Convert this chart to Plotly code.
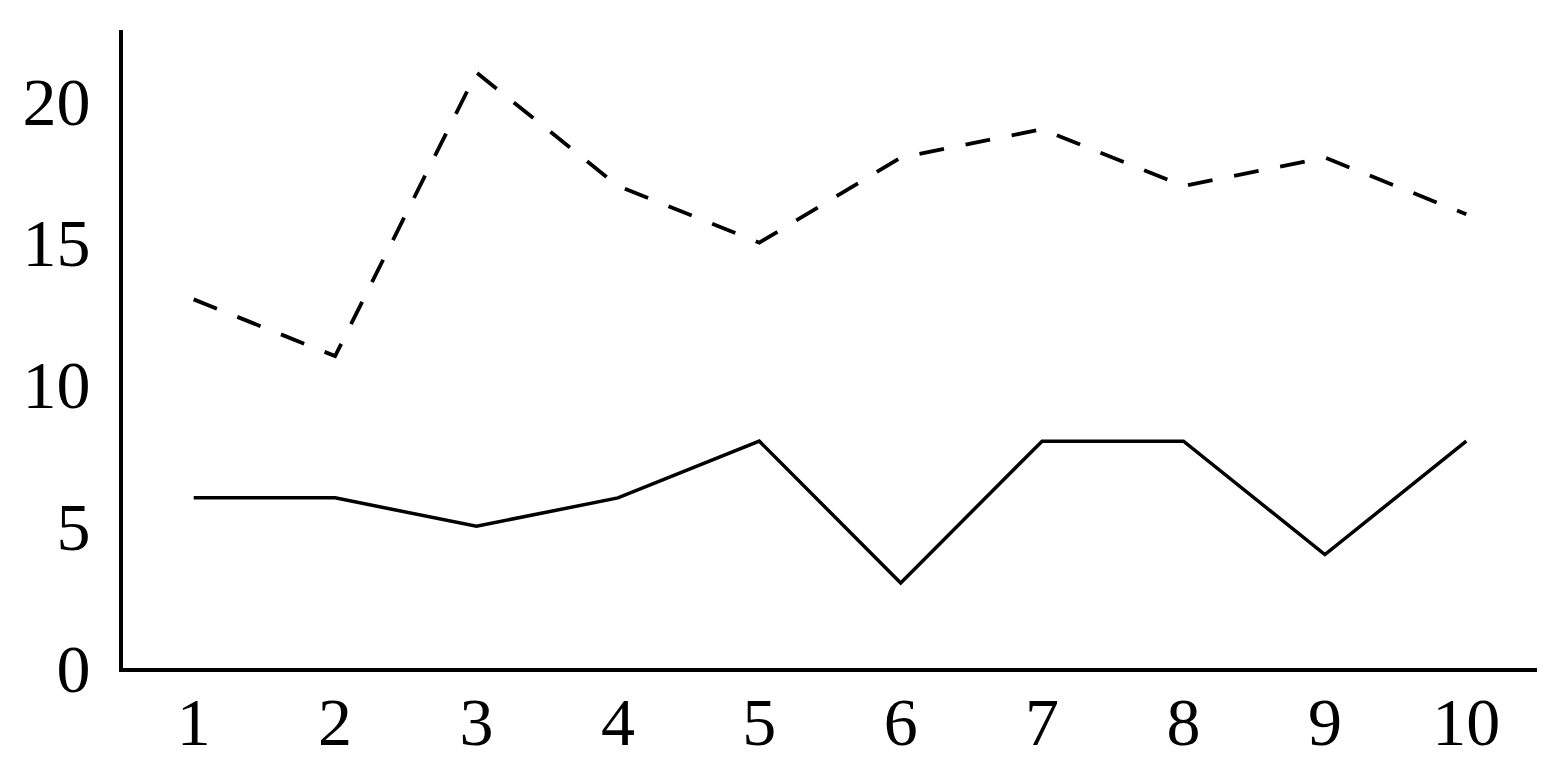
import plotly.graph_objects as go

# data
x = [1, 2, 3, 4, 5, 6, 7, 8, 9, 10]
dashed_vals = [13, 11, 21, 17, 15, 18, 19, 17, 18, 16]
solid_vals = [6, 6, 5, 6, 8, 3, 8, 8, 4, 8]
y_ticks = [0, 5, 10, 15, 20]

fig = go.Figure()

# dashed series
fig.add_trace(go.Scatter(x=x, y=dashed_vals, mode='lines',
                         line=dict(color='black', width=3.8, dash='25px,22px'),
                         showlegend=False))
# solid series
fig.add_trace(go.Scatter(x=x, y=solid_vals, mode='lines',
                         line=dict(color='black', width=3.5),
                         showlegend=False))

# page body adds an 8px offset, margins compensate for it
fig.update_layout(
    width=1567, height=782,
    margin=dict(l=115, r=38, t=22, b=122, autoexpand=False),
    paper_bgcolor='white', plot_bgcolor='white',
    font=dict(family='Liberation Serif, DejaVu Serif, serif', size=68, color='black'),
)

fig.update_xaxes(range=[0.5, 10.5], tickvals=x, showgrid=False, zeroline=False,
                 showline=True, linecolor='black', linewidth=4, automargin=False,
                 ticks='', ticklabelstandoff=-9)
fig.update_yaxes(range=[0, 22.5], tickvals=y_ticks, showgrid=False, zeroline=False,
                 showline=True, linecolor='black', linewidth=4, automargin=False,
                 ticks='', ticklabelstandoff=15)

fig.write_html("out.html")
